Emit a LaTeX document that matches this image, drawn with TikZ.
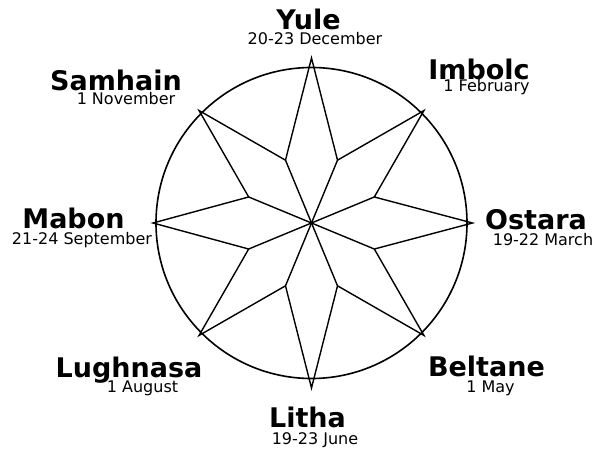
\documentclass[tikz,border=0pt]{standalone}
\usepackage{fontspec}
\setmainfont{DejaVu Sans}
\usetikzlibrary{calc}
\begin{document}
\begin{tikzpicture}[x=1pt,y=1pt,
  namelbl/.style={anchor=base,inner sep=0pt,font=\fontsize{27}{27}\selectfont\bfseries},
  datelbl/.style={anchor=base,inner sep=0pt,font=\fontsize{16}{16}\selectfont},
  starline/.style={line width=1.4pt,line join=miter},
  ring/.style={line width=1.6pt}]
\useasboundingbox (0,0) rectangle (592,448);
\coordinate (c) at (311.5,225);
\draw[ring] (c) circle (155.5);
% tips
\coordinate (tN)  at ($(c)+(90:165)$);
\coordinate (tNE) at ($(c)+(45:159)$);
\coordinate (tE)  at ($(c)+(0:161)$);
\coordinate (tSE) at ($(c)+(-45:159)$);
\coordinate (tS)  at ($(c)+(-90:165)$);
\coordinate (tSW) at ($(c)+(-135:159)$);
\coordinate (tW)  at ($(c)+(180:158.5)$);
\coordinate (tNW) at ($(c)+(135:159)$);
% inner vertices
\foreach \i/\a in {1/67.5,2/22.5,3/-22.5,4/-67.5,5/-112.5,6/-157.5,7/157.5,8/112.5}
  \coordinate (v\i) at ($(c)+(\a:68)$);
\draw[starline] (tN) -- (v1) -- (tNE) -- (v2) -- (tE) -- (v3) -- (tSE) -- (v4) -- (tS) -- (v5) -- (tSW) -- (v6) -- (tW) -- (v7) -- (tNW) -- (v8) -- cycle;
\foreach \i in {1,...,8} \draw[starline] (c) -- (v\i);
% labels
\node[namelbl] (yule) at (308.5,418) {Yule};
\node[datelbl] (yuled) at (315,403) {20-23 December};
\node[namelbl] (imbolc) at (479,368) {Imbolc};
\node[datelbl] (imbolcd) at (486.5,356) {1 February};
\node[namelbl] (samhain) at (116,357) {Samhain};
\node[datelbl] (samhaind) at (126,343) {1 November};
\node[namelbl] (mabon) at (73.5,219) {Mabon};
\node[datelbl] (mabond) at (82,204) {21-24 September};
\node[namelbl] (ostara) at (536,218.5) {Ostara};
\node[datelbl] (ostarad) at (543,203) {19-22 March};
\node[namelbl] (lughnasa) at (129,71) {Lughnasa};
\node[datelbl] (lughnasad) at (142.5,56) {1 August};
\node[namelbl] (beltane) at (486.5,72) {Beltane};
\node[datelbl] (beltaned) at (490.5,56) {1 May};
\node[namelbl] (litha) at (307.5,21) {Litha};
\node[datelbl] (lithad) at (315,3.5) {19-23 June};
\end{tikzpicture}
\end{document}
